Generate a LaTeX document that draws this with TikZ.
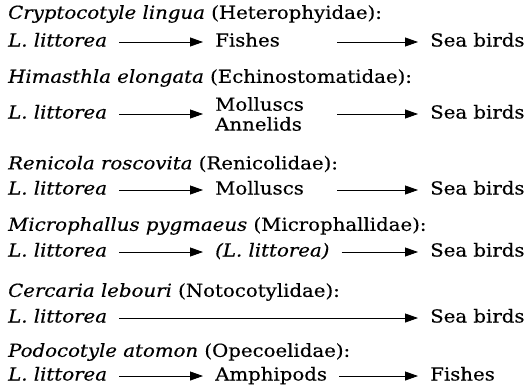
\documentclass[tikz,border=0pt]{standalone}
\usepackage{fontspec}
\setmainfont{DejaVu Serif}[FakeStretch=1.1, FakeBold=0.4]
\usetikzlibrary{arrows.meta}
\tikzset{
  tgTitle/.style={
    anchor=west, inner sep=0pt, font=\fontsize{18}{20}\selectfont
  },
  tgHost/.style={
    anchor=west, inner xsep=6bp, inner ysep=0pt, text height=13bp,
    text depth=4bp, font=\fontsize{18}{20}\selectfont
  },
  tgMid/.style={
    anchor=west, inner xsep=6bp, inner ysep=0pt, text width=110bp,
    align=left, font=\fontsize{18}{20}\selectfont
  },
  tgArrow/.style={-{Triangle[length=13bp,width=9bp]}, line width=0.8bp,
    shorten <=6bp, shorten >=6bp}
}

\begin{document}
\begin{tikzpicture}[x=1bp, y=-1bp]
  \useasboundingbox (0,0) rectangle (526,388);

  % Cryptocotyle
  \node[tgTitle] (t1) at (8,14) {\textit{Cryptocotyle lingua} (Heterophyidae):};
  \node[tgHost] (lit1) at (2,42) {\textit{L. littorea}};
  \node[tgMid, text height=13bp, text depth=4bp] (mid1) at (209,42) {Fishes};
  \node[tgHost] (bird1) at (424,42) {Sea birds};
  \draw[tgArrow] (lit1.east) -- (mid1.west);
  \draw[tgArrow] (mid1.east) -- (bird1.west);

  % Himasthla
  \node[tgTitle] (t2) at (8,78) {\textit{Himasthla elongata} (Echinostomatidae):};
  \node[tgHost] (lit2) at (2,114) {\textit{L. littorea}};
  \node[tgMid] (mid2) at (209,114) {Molluscs\\Annelids};
  \node[tgHost] (bird2) at (424,114) {Sea birds};
  \draw[tgArrow] (lit2.east) -- (mid2.west);
  \draw[tgArrow] (mid2.east) -- (bird2.west);

  % Renicola
  \node[tgTitle] (t3) at (8,164) {\textit{Renicola roscovita} (Renicolidae):};
  \node[tgHost] (lit3) at (2,190) {\textit{L. littorea}};
  \node[tgMid, text height=13bp, text depth=4bp] (mid3) at (209,190) {Molluscs};
  \node[tgHost] (bird3) at (424,190) {Sea birds};
  \draw[tgArrow] (lit3.east) -- (mid3.west);
  \draw[tgArrow] (mid3.east) -- (bird3.west);

  % Microphallus
  \node[tgTitle] (t4) at (8,226) {\textit{Microphallus pygmaeus} (Microphallidae):};
  \node[tgHost] (lit4) at (2,252) {\textit{L. littorea}};
  \node[tgHost] (mid4) at (209,252) {\textit{(L. littorea)}};
  \node[tgHost] (bird4) at (424,252) {Sea birds};
  \draw[tgArrow] (lit4.east) -- (mid4.west);
  \draw[tgArrow] (mid4.east) -- (bird4.west);

  % Cercaria
  \node[tgTitle] (t5) at (8,292) {\textit{Cercaria lebouri} (Notocotylidae):};
  \node[tgHost] (lit5) at (2,318) {\textit{L. littorea}};
  \node[tgHost] (bird5) at (424,318) {Sea birds};
  \draw[tgArrow] (lit5.east) -- (bird5.west);

  % Podocotyle
  \node[tgTitle] (t6) at (8,352) {\textit{Podocotyle atomon} (Opecoelidae):};
  \node[tgHost] (lit6) at (2,376) {\textit{L. littorea}};
  \node[tgHost] (mid6) at (209,376) {Amphipods};
  \node[tgHost] (fish6) at (424,376) {Fishes};
  \draw[tgArrow] (lit6.east) -- (mid6.west);
  \draw[tgArrow] (mid6.east) -- (fish6.west);
\end{tikzpicture}
\end{document}
